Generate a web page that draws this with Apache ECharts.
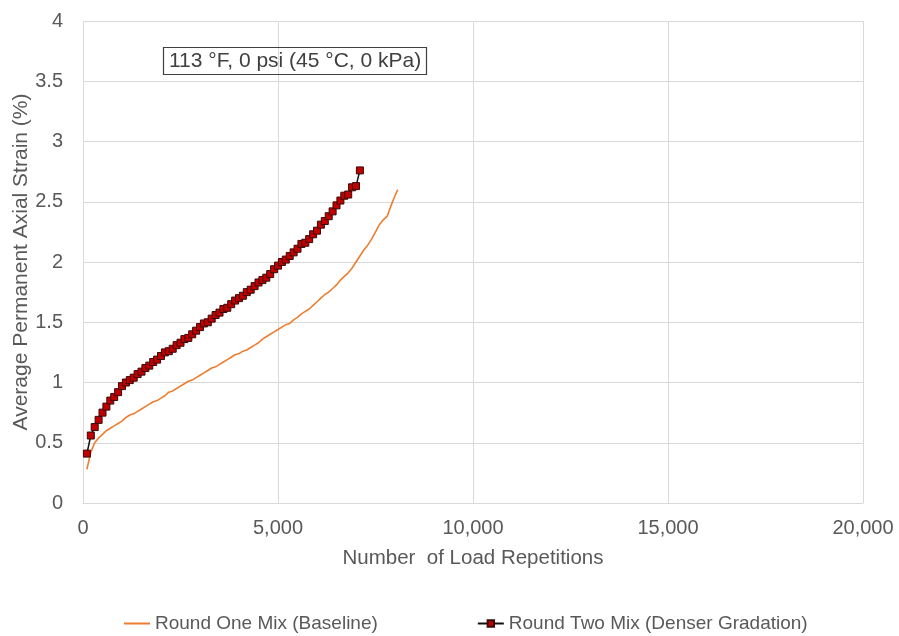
<!DOCTYPE html>
<html><head><meta charset="utf-8">
<script src="https://cdn.jsdelivr.net/npm/echarts@6/dist/echarts.min.js"></script>
<style>html,body{margin:0;padding:0;background:#fff}#c{width:899px;height:636px}</style>
</head><body><div id="c"></div>
<script>
const roundOneX = [100,200,300,400,500,600,700,800,900,1000,1100,1200,1300,1400,1500,1600,1700,1800,1900,2000,2100,2200,2300,2400,2500,2600,2700,2800,2900,3000,3100,3200,3300,3400,3500,3600,3700,3800,3900,4000,4100,4200,4300,4400,4500,4600,4700,4800,4900,5000,5100,5200,5300,5400,5500,5600,5700,5800,5900,6000,6100,6200,6300,6400,6500,6600,6700,6800,6900,7000,7100,7200,7300,7400,7500,7600,7700,7800,7900,8000,8070];
const roundOneY = [0.28,0.42,0.50,0.54,0.57,0.60,0.62,0.64,0.66,0.68,0.71,0.73,0.74,0.76,0.78,0.80,0.82,0.84,0.85,0.87,0.89,0.92,0.93,0.95,0.97,0.99,1.01,1.02,1.04,1.06,1.08,1.10,1.12,1.13,1.15,1.17,1.19,1.21,1.23,1.24,1.26,1.27,1.29,1.31,1.33,1.36,1.38,1.40,1.42,1.44,1.46,1.48,1.49,1.52,1.54,1.57,1.59,1.61,1.64,1.67,1.70,1.73,1.75,1.78,1.81,1.85,1.88,1.91,1.95,2.00,2.05,2.10,2.14,2.19,2.25,2.31,2.35,2.38,2.47,2.55,2.60];
const roundTwoX = [100,200,300,400,500,600,700,800,900,1000,1100,1200,1300,1400,1500,1600,1700,1800,1900,2000,2100,2200,2300,2400,2500,2600,2700,2800,2900,3000,3100,3200,3300,3400,3500,3600,3700,3800,3900,4000,4100,4200,4300,4400,4500,4600,4700,4800,4900,5000,5100,5200,5300,5400,5500,5600,5700,5800,5900,6000,6100,6200,6300,6400,6500,6600,6700,6800,6900,7000,7100];
const roundTwoY = [0.41,0.56,0.63,0.69,0.75,0.80,0.85,0.88,0.92,0.97,1.00,1.02,1.04,1.07,1.09,1.12,1.14,1.17,1.19,1.22,1.25,1.26,1.28,1.31,1.33,1.36,1.37,1.40,1.43,1.46,1.49,1.50,1.53,1.56,1.58,1.61,1.62,1.65,1.68,1.70,1.72,1.75,1.77,1.80,1.83,1.85,1.87,1.90,1.94,1.97,2.00,2.02,2.05,2.08,2.11,2.15,2.16,2.19,2.23,2.26,2.31,2.34,2.38,2.42,2.47,2.51,2.55,2.56,2.62,2.63,2.76];
const seriesNames = ['Round One Mix (Baseline)','Round Two Mix (Denser Gradation)'];
const annotation = '113 °F, 0 psi (45 °C, 0 kPa)';
const xName = 'Number  of Load Repetitions';
const yName = 'Average Permanent Axial Strain (%)';

const pair = (xs, ys) => xs.map((x, i) => [x, ys[i]]);
const font = 'Liberation Sans, Arial, sans-serif';
const chart = echarts.init(document.getElementById('c'), null, {renderer:'canvas'});
chart.setOption({
  animation: false,
  backgroundColor: '#fff',
  textStyle: {fontFamily: font},
  title: {
    text: annotation, left: 163, top: 47,
    borderColor: '#404040', borderWidth: 1.2, padding: [4, 6, 3, 6],
    textStyle: {fontSize: 21, fontWeight: 'normal', color: '#404040', fontFamily: font, lineHeight: 21}
  },
  legend: {
    top: 609, left: 118, itemWidth: 26, itemHeight: 8, itemGap: 99,
    textStyle: {fontSize: 19, color: '#595959', fontFamily: font},
    data: [
      {name: seriesNames[0], itemStyle: {opacity: 0}},
      {name: seriesNames[1]}
    ]
  },
  grid: {left: 83, right: 36, top: 21, bottom: 133, containLabel: false, outerBoundsMode: 'none'},
  xAxis: {
    type: 'value', min: 0, max: 20000, interval: 5000,
    name: xName, nameLocation: 'middle', nameGap: 45, nameMoveOverlap: false,
    nameTextStyle: {fontSize: 20.5, color: '#595959'},
    axisLine: {show: true, lineStyle: {color: '#d9d9d9'}},
    axisTick: {show: false},
    splitLine: {show: true, lineStyle: {color: '#d9d9d9', width: 1}},
    axisLabel: {fontSize: 20, color: '#595959', margin: 15,
      formatter: v => v.toLocaleString('en-US')}
  },
  yAxis: {
    type: 'value', min: 0, max: 4, interval: 0.5,
    name: yName, nameLocation: 'middle', nameGap: 51, nameRotate: 90, nameMoveOverlap: false,
    nameTextStyle: {fontSize: 21, color: '#595959'},
    axisLine: {show: false}, axisTick: {show: false},
    splitLine: {show: true, lineStyle: {color: '#d9d9d9', width: 1}},
    axisLabel: {fontSize: 20, color: '#595959', margin: 20}
  },
  series: [
    {
      name: seriesNames[0], type: 'line', data: pair(roundOneX, roundOneY),
      showSymbol: false, symbol: 'circle',
      lineStyle: {color: '#ED7D31', width: 1.6}, itemStyle: {color: '#ED7D31'}
    },
    {
      name: seriesNames[1], type: 'line', data: pair(roundTwoX, roundTwoY),
      symbol: 'rect', symbolSize: 7, showSymbol: true,
      lineStyle: {color: '#111', width: 1.5},
      itemStyle: {color: '#C00000', borderColor: '#3a0a0a', borderWidth: 1}
    }
  ]
});
</script></body></html>
